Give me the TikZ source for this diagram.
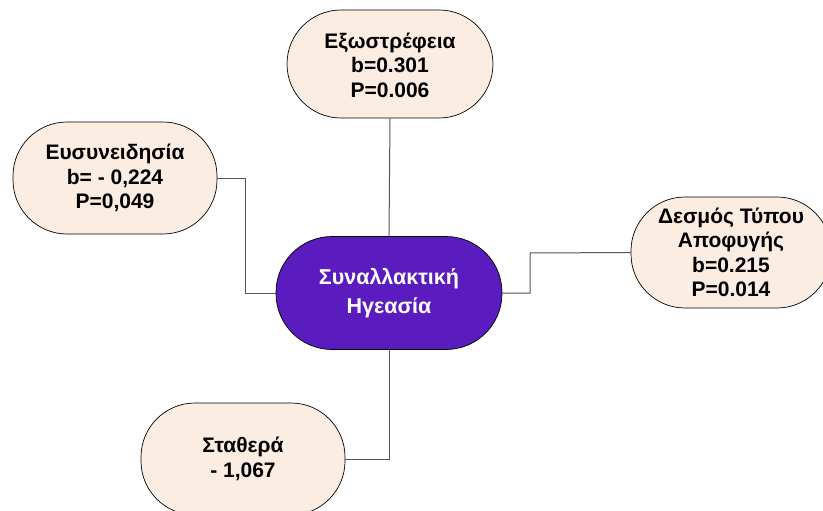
\documentclass[tikz,border=0pt]{standalone}
\usepackage{fontspec}
\setmainfont{Liberation Sans}
\definecolor{peach}{HTML}{FCEDE3}
\definecolor{violet}{HTML}{5A1CBF}
\definecolor{conn}{HTML}{555555}
\begin{document}
\begin{tikzpicture}[x=1pt,y=-1pt,
  pill/.style={draw=black, line width=0.7pt, fill=peach, rounded corners=54pt,
    minimum width=204pt, minimum height=110pt, inner sep=0pt, align=center,
    font=\fontsize{21}{24.5}\selectfont\bfseries},
  hub/.style={pill, fill=violet, text=white, minimum width=226pt, minimum height=113pt,
    rounded corners=56pt, font=\fontsize{21.5}{29}\selectfont\bfseries},
  link/.style={draw=conn, line width=1pt}]
\useasboundingbox (0,0) rectangle (823,511);
\clip (0,0) rectangle (823,511);
\node[hub] (c) at (389,293) {Συναλλακτική\\Ηγεασία};
\node[pill, minimum width=206pt, minimum height=108pt] (t) at (390,64) {\raisebox{-4pt}[\height][\depth]{\begin{tabular}{@{}c@{}}Εξωστρέφεια\\b=0.301\\P=0.006\end{tabular}}};
\node[pill, minimum height=112pt] (l) at (115,178) {Ευσυνειδησία\\b= - 0,224\\P=0,049};
\node[pill, minimum width=200pt, minimum height=111pt] (r) at (731,252.5) {Δεσμός Τύπου\\Αποφυγής\\b=0.215\\P=0.014};
\node[pill, minimum height=112pt] (b) at (243,459) {Σταθερά\\- 1,067};
\coordinate (lk) at (245,178);
\coordinate (rk) at (530,253);
\coordinate (bk) at (389,459);
\draw[link] (t.south) -- (c.north);
\draw[link] (l.east) -- (lk) |- (c.west);
\draw[link] (r.west) -- (rk) |- (c.east);
\draw[link] (c.south) -- (bk) -- (b.east);
\end{tikzpicture}
\end{document}
